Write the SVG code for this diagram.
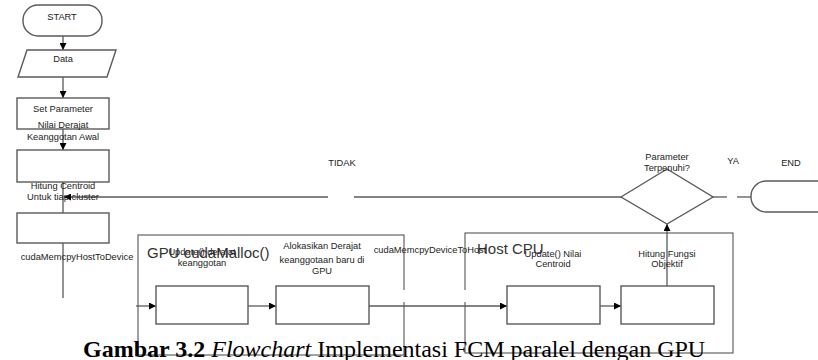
<svg xmlns="http://www.w3.org/2000/svg" width="818" height="360" viewBox="0 0 818 360">
<defs>
<style>
.box{fill:#fff;stroke:#5a5a5a;stroke-width:1.4}
.frame{fill:none;stroke:#555;stroke-width:1.1}
.ln{fill:none;stroke:#5a5a5a;stroke-width:1.3}
.t{font-family:"Liberation Sans",Arial,sans-serif;font-size:9.3px;fill:#222;text-anchor:middle}
.tl{font-family:"Liberation Sans",Arial,sans-serif;font-size:9.3px;fill:#222}
.big{font-family:"Liberation Sans",Arial,sans-serif;font-size:15px;fill:#333}
.cap{font-family:"Liberation Serif","Times New Roman",serif;font-size:24px;fill:#000}
</style>
<marker id="ah" viewBox="0 0 10 10" refX="10" refY="5" markerWidth="9" markerHeight="7" markerUnits="userSpaceOnUse" orient="auto">
<path d="M0,0 L10,5 L0,10 z" fill="#000"/>
</marker>
</defs>
<rect width="818" height="360" fill="#fff"/>
<g id="gpu-frame"><rect class="frame" x="138" y="235" width="266" height="120"/><text class="big" x="147" y="258">GPU cudaMalloc()</text></g>
<g id="cpu-frame"><rect class="frame" x="465" y="233" width="268" height="120"/><text class="big" x="477" y="254">Host CPU</text></g>
<rect x="368" y="290" width="120" height="12" fill="#fff"/>
<g id="connectors">
<line class="ln" x1="63" y1="36" x2="63" y2="50" marker-end="url(#ah)"/>
<line class="ln" x1="63" y1="77" x2="63" y2="98" marker-end="url(#ah)"/>
<line class="ln" x1="63" y1="129" x2="63" y2="150" marker-end="url(#ah)"/>
<line class="ln" x1="63" y1="182" x2="63" y2="213"/>
<line class="ln" x1="621" y1="197" x2="354" y2="197"/>
<line class="ln" x1="328" y1="197" x2="64" y2="197" marker-end="url(#ah)"/>
<line class="ln" x1="63" y1="243" x2="63" y2="298"/>
<line class="ln" x1="136" y1="306" x2="156" y2="306" marker-end="url(#ah)"/>
<line class="ln" x1="248" y1="306" x2="276" y2="306" marker-end="url(#ah)"/>
<line class="ln" x1="369" y1="306" x2="507" y2="306" marker-end="url(#ah)"/>
<line class="ln" x1="600" y1="306" x2="621" y2="306" marker-end="url(#ah)"/>
<line class="ln" x1="667" y1="286" x2="667" y2="224" marker-end="url(#ah)"/>
<line class="ln" x1="713" y1="197" x2="727" y2="197"/>
<line class="ln" x1="737" y1="197" x2="751" y2="197"/>
</g>
<g id="start"><rect class="box" x="23" y="5" width="79" height="31" rx="15"/><text class="t" x="62" y="19.5">START</text></g>
<g id="data"><polygon class="box" points="27,50 116,50 107,77 18,77"/><text class="t" x="63" y="62">Data</text></g>
<g id="setparam"><rect class="box" x="17" y="98" width="92" height="31"/><text class="t" x="63" y="111.5">Set Parameter</text><text class="t" x="63" y="127.5">Nilai Derajat</text><text class="t" x="63" y="139.5">Keanggotan Awal</text></g>
<g id="centroid"><rect class="box" x="17" y="150" width="92" height="32"/><text class="t" x="63" y="188.5">Hitung Centroid</text><text class="t" x="63" y="199.5">Untuk tiap cluster</text></g>
<g id="memcpy"><rect class="box" x="17" y="213" width="92" height="30"/><text class="t" x="77" y="259.5">cudaMemcpyHostToDevice</text></g>
<g id="update-derajat"><rect class="box" x="156" y="286" width="92" height="38"/><text class="t" x="202" y="255">Update() derajat</text><text class="t" x="202" y="266">keanggotan</text></g>
<g id="alokasi"><rect class="box" x="276" y="286" width="93" height="38"/><text class="t" x="322" y="248.5">Alokasikan Derajat</text><text class="t" x="322" y="262.5">keanggotaan baru di</text><text class="t" x="322" y="273.5">GPU</text></g>
<text id="devtohost" class="t" x="430" y="252.5">cudaMemcpyDeviceToHost</text>
<g id="update-centroid"><rect class="box" x="507" y="286" width="93" height="38"/><text class="t" x="553" y="256.5">Update() Nilai</text><text class="t" x="553" y="266.5">Centroid</text></g>
<g id="fungsi"><rect class="box" x="621" y="286" width="93" height="38"/><text class="t" x="667" y="256.5">Hitung Fungsi</text><text class="t" x="667" y="266.5">Objektif</text></g>
<g id="decision"><polygon class="box" points="621,197 667,169 713,197 667,224"/><text class="t" x="667" y="159.5">Parameter</text><text class="t" x="667" y="170.5">Terpenuhi?</text></g>
<g id="end"><rect class="box" x="751" y="181" width="90" height="31" rx="15"/><text class="t" x="791" y="165.5">END</text></g>
<text class="t" x="342" y="165.5">TIDAK</text>
<text class="t" x="733" y="163.5">YA</text>
<text class="cap" x="83" y="357"><tspan font-weight="bold">Gambar 3.2 </tspan><tspan font-style="italic">Flowchart</tspan> Implementasi FCM paralel dengan GPU</text>
</svg>
